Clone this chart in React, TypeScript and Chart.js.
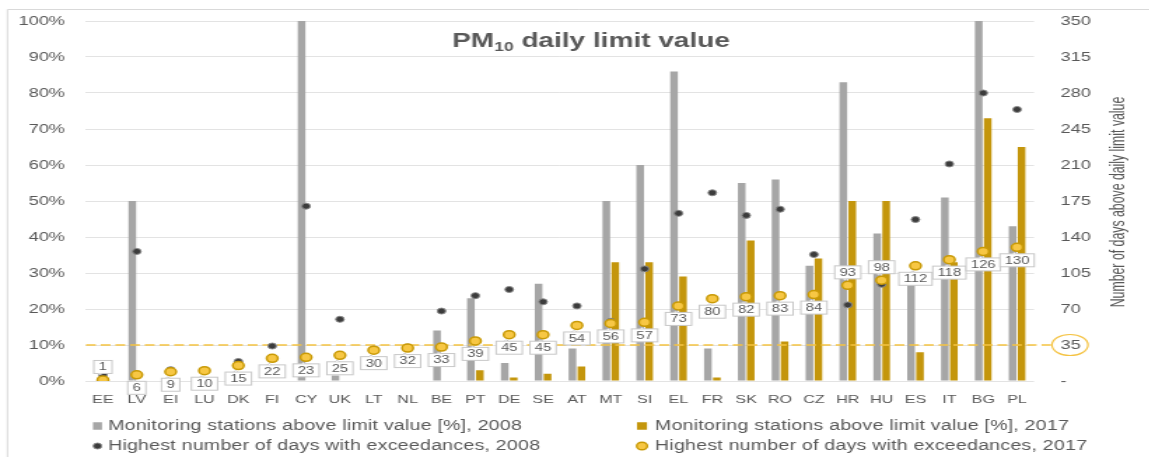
import React, { useEffect, useRef } from 'react';
import { Chart, registerables } from 'chart.js';

Chart.register(...registerables);

// ---------- data ----------
const countries = ['EE', 'LV', 'EI', 'LU', 'DK', 'FI', 'CY', 'UK', 'LT', 'NL', 'BE', 'PT', 'DE', 'SE', 'AT', 'MT', 'SI', 'EL', 'FR', 'SK', 'RO', 'CZ', 'HR', 'HU', 'ES', 'IT', 'BG', 'PL'];
const stations2008 = [0, 50, 0, 0, 0, 0, 100, 1.5, 0, 0, 14, 23, 5, 27, 9, 50, 60, 86, 9, 55, 56, 32, 83, 41, 28, 51, 100, 43];
const stations2017 = [0, 0, 0, 0, 0, 0, 0, 0, 0, 0, 0, 3, 1, 2, 4, 33, 33, 29, 1, 39, 11, 34, 50, 50, 8, 33, 73, 65];
const days2008 = [6, 126, 11, 10, 19, 34, 170, 60, 31, 33, 68, 83, 89, 77, 73, 58, 109, 163, 183, 161, 167, 123, 74, 94, 157, 211, 280, 264];
const days2017 = [1, 6, 9, 10, 15, 22, 23, 25, 30, 32, 33, 39, 45, 45, 54, 56, 57, 73, 80, 82, 83, 84, 93, 98, 112, 118, 126, 130];
const limitDays = 35;
const percentMax = 100;
const percentStep = 10;
const daysMax = 350;
const daysStep = 35;

const seriesNames = [
  'Monitoring stations above limit value [%], 2008',
  'Monitoring stations above limit value [%], 2017',
  'Highest number of days with exceedances, 2008',
  'Highest number of days with exceedances, 2017',
];
const titleMain = 'PM';
const titleSub = '10';
const titleRest = ' daily limit value';
const rightAxisTitle = 'Number of days above daily limit value';

// ---------- layout / style ----------
const SX = 1.4; // horizontal stretch of the whole picture
const W = 1149;
const H = 457;
const IW = 821; // internal canvas width (IW * SX ~= W)
const X = (px: number) => px / SX; // final px -> internal px
const PLOT_L = X(86);
const PLOT_R = X(1034);
const PLOT_T = 21;
const PLOT_B = 381;

const FONT = "'Liberation Sans', Arial, sans-serif";
const TXT = '#595959';
const GREY = '#a6a6a6';
const GOLD = '#c4960c';
const DOT08 = '#3c3c3c';
const DOT17 = '#f7c744';
const DOT17B = '#c99a06';
const LIMIT = '#f5c342';

const labelsAbove = ['EE', 'HR', 'HU'];

const decorPlugin = {
  id: 'decor',
  afterLayout(chart: any) {
    const ca = chart.chartArea;
    ca.top = PLOT_T;
    ca.bottom = PLOT_B;
    ca.height = PLOT_B - PLOT_T;
    ['y', 'y1'].forEach((id) => {
      const s = chart.scales[id];
      s.top = PLOT_T;
      s.bottom = PLOT_B;
      s.height = PLOT_B - PLOT_T;
      s.configure();
    });
  },
  beforeDraw(chart: any) {
    const ctx = chart.ctx;
    ctx.save();
    ctx.fillStyle = '#ffffff';
    ctx.fillRect(0, 0, chart.width, chart.height);
    ctx.strokeStyle = '#d9d9d9';
    ctx.lineWidth = 1;
    ctx.beginPath();
    ctx.moveTo(X(7.5), H);
    ctx.lineTo(X(7.5), 9.5);
    ctx.lineTo(chart.width, 9.5);
    ctx.stroke();
    ctx.restore();
  },
  beforeDatasetDraw(chart: any, args: any) {
    if (args.index !== 2) return;
    const ctx = chart.ctx;
    const y1 = chart.scales.y1;
    const y = y1.getPixelForValue(limitDays);
    ctx.save();
    ctx.strokeStyle = LIMIT;
    ctx.lineWidth = 1.7;
    ctx.setLineDash([7, 3.5]);
    ctx.beginPath();
    ctx.moveTo(chart.chartArea.left, y);
    ctx.lineTo(X(1051), y);
    ctx.stroke();
    ctx.setLineDash([]);
    ctx.lineWidth = 1.2;
    ctx.beginPath();
    ctx.ellipse(X(1070), y, X(18), 10.5, 0, 0, Math.PI * 2);
    ctx.stroke();
    ctx.restore();
  },
  afterDatasetsDraw(chart: any) {
    const ctx = chart.ctx;
    const meta = chart.getDatasetMeta(3);
    ctx.save();
    ctx.font = `10.5px ${FONT}`;
    ctx.textAlign = 'center';
    ctx.textBaseline = 'middle';
    meta.data.forEach((pt: any, i: number) => {
      const txt = String(days2017[i]);
      const above = labelsAbove.includes(countries[i]);
      const tw = ctx.measureText(txt).width;
      const bw = Math.max(tw + 7, 13);
      const bh = 13;
      const cx = pt.x;
      const cy = pt.y + (above ? -13 : 13);
      const left = cx - bw / 2;
      const top = cy - bh / 2;
      ctx.fillStyle = '#ffffff';
      ctx.strokeStyle = '#c8c8c8';
      ctx.lineWidth = 1;
      ctx.fillRect(left, top, bw, bh);
      ctx.strokeRect(left, top, bw, bh);
      const edgeY = above ? top + bh : top;
      const tipY = pt.y + (above ? -5 : 5);
      ctx.beginPath();
      ctx.moveTo(cx - 3.5, edgeY);
      ctx.lineTo(cx - 2, tipY);
      ctx.lineTo(cx - 0.5, edgeY);
      ctx.closePath();
      ctx.fill();
      ctx.beginPath();
      ctx.moveTo(cx - 3.5, edgeY);
      ctx.lineTo(cx - 2, tipY);
      ctx.lineTo(cx - 0.5, edgeY);
      ctx.stroke();
      ctx.fillStyle = TXT;
      ctx.fillText(txt, cx, cy + 0.5);
    });
    ctx.restore();
  },
  afterDraw(chart: any) {
    const ctx = chart.ctx;
    ctx.save();
    // title with subscript
    ctx.fillStyle = TXT;
    ctx.textBaseline = 'alphabetic';
    ctx.textAlign = 'left';
    const big = `bold 20px ${FONT}`;
    const small = `bold 12.5px ${FONT}`;
    ctx.font = big;
    const w1 = ctx.measureText(titleMain).width;
    const w3 = ctx.measureText(titleRest).width;
    ctx.font = small;
    const w2 = ctx.measureText(titleSub).width;
    let x = X(591) - (w1 + w2 + w3) / 2;
    ctx.font = big;
    ctx.fillText(titleMain, x, 47);
    x += w1;
    ctx.font = small;
    ctx.fillText(titleSub, x, 51);
    x += w2;
    ctx.font = big;
    ctx.fillText(titleRest, x, 47);

    // right axis title (condensed along its length)
    ctx.save();
    ctx.translate(X(1118), 202);
    ctx.rotate(-Math.PI / 2);
    ctx.scale(0.82, 1);
    ctx.textAlign = 'center';
    ctx.textBaseline = 'middle';
    ctx.font = `15px ${FONT}`;
    ctx.fillStyle = TXT;
    ctx.fillText(rightAxisTitle, 0, 0);
    ctx.restore();

    // legend (2 x 2)
    const rows = [426, 446];
    const markX = [X(97.5), X(642)];
    const textX = [X(108), X(655)];
    ctx.fillStyle = GREY;
    ctx.fillRect(markX[0] - X(4.5), rows[0] - 3.75, X(9), 7.5);
    ctx.fillStyle = GOLD;
    ctx.fillRect(markX[1] - X(5), rows[0] - 3.75, X(10), 7.5);
    ctx.fillStyle = DOT08;
    ctx.strokeStyle = '#8a8a8a';
    ctx.lineWidth = 1;
    ctx.beginPath();
    ctx.arc(markX[0], rows[1], 3, 0, Math.PI * 2);
    ctx.fill();
    ctx.stroke();
    ctx.fillStyle = DOT17;
    ctx.strokeStyle = DOT17B;
    ctx.lineWidth = 1.4;
    ctx.beginPath();
    ctx.arc(markX[1], rows[1], 3.8, 0, Math.PI * 2);
    ctx.fill();
    ctx.stroke();
    ctx.font = `14px ${FONT}`;
    (ctx as any).letterSpacing = '0.15px';
    ctx.textBaseline = 'middle';
    ctx.fillStyle = TXT;
    ctx.fillText(seriesNames[0], textX[0], rows[0]);
    ctx.fillText(seriesNames[1], textX[1], rows[0]);
    ctx.fillText(seriesNames[2], textX[0], rows[1]);
    ctx.fillText(seriesNames[3], textX[1], rows[1]);
    (ctx as any).letterSpacing = '0px';
    ctx.restore();
  },
};

export default function App() {
  const ref = useRef<HTMLCanvasElement>(null);
  useEffect(() => {
    const canvas = ref.current;
    if (!canvas) return;
    const chart = new Chart(canvas, {
      type: 'bar',
      data: {
        labels: countries,
        datasets: [
          {
            type: 'bar',
            label: seriesNames[0],
            data: stations2008,
            backgroundColor: GREY,
            yAxisID: 'y',
            order: 3,
            categoryPercentage: 0.53,
            barPercentage: 0.85,
          },
          {
            type: 'bar',
            label: seriesNames[1],
            data: stations2017,
            backgroundColor: GOLD,
            yAxisID: 'y',
            order: 4,
            categoryPercentage: 0.53,
            barPercentage: 0.85,
          },
          {
            type: 'line',
            label: seriesNames[2],
            data: days2008,
            yAxisID: 'y1',
            showLine: false,
            pointRadius: 3,
            pointBackgroundColor: DOT08,
            pointBorderColor: '#8a8a8a',
            pointBorderWidth: 1,
            order: 2,
          },
          {
            type: 'line',
            label: seriesNames[3],
            data: days2017,
            yAxisID: 'y1',
            showLine: false,
            pointRadius: 4,
            pointBackgroundColor: DOT17,
            pointBorderColor: DOT17B,
            pointBorderWidth: 1.5,
            order: 1,
          },
        ] as any,
      },
      options: {
        animation: false,
        responsive: false,
        maintainAspectRatio: false,
        devicePixelRatio: 1,
        layout: { padding: { top: PLOT_T, left: 0, right: 0, bottom: 0 } },
        plugins: {
          legend: { display: false },
          title: { display: false },
          tooltip: { enabled: false },
        },
        scales: {
          x: {
            grid: { display: false, drawTicks: false },
            border: { display: false },
            ticks: {
              color: TXT,
              font: { size: 11.5, family: FONT },
              padding: 12,
              autoSkip: false,
              maxRotation: 0,
            },
            afterFit: (s: any) => {
              s.height = H - PLOT_B;
            },
          },
          y: {
            position: 'left',
            min: 0,
            max: percentMax,
            grid: { color: '#e3e3e3', drawTicks: false },
            border: { display: false },
            ticks: {
              stepSize: percentStep,
              color: TXT,
              font: { size: 13, family: FONT },
              padding: 15,
              callback: (v: any) => `${v}%`,
            },
            afterFit: (s: any) => {
              s.width = PLOT_L;
            },
          },
          y1: {
            position: 'right',
            min: 0,
            max: daysMax,
            grid: { display: false, drawTicks: false },
            border: { display: false },
            ticks: {
              stepSize: daysStep,
              color: TXT,
              font: { size: 13, family: FONT },
              padding: 19,
              callback: (v: any) => (v === 0 ? '-' : `${v}`),
            },
            afterFit: (s: any) => {
              s.width = IW - PLOT_R;
            },
          },
        },
      } as any,
      plugins: [decorPlugin],
    });
    return () => chart.destroy();
  }, []);

  return (
    <div
      style={{
        position: 'absolute',
        left: 0,
        top: 0,
        width: W,
        height: H,
        overflow: 'hidden',
        background: '#ffffff',
      }}
    >
      <canvas
        ref={ref}
        width={IW}
        height={H}
        style={{
          display: 'block',
          width: IW,
          height: H,
          transform: `scaleX(${SX})`,
          transformOrigin: '0 0',
        }}
      />
    </div>
  );
}
